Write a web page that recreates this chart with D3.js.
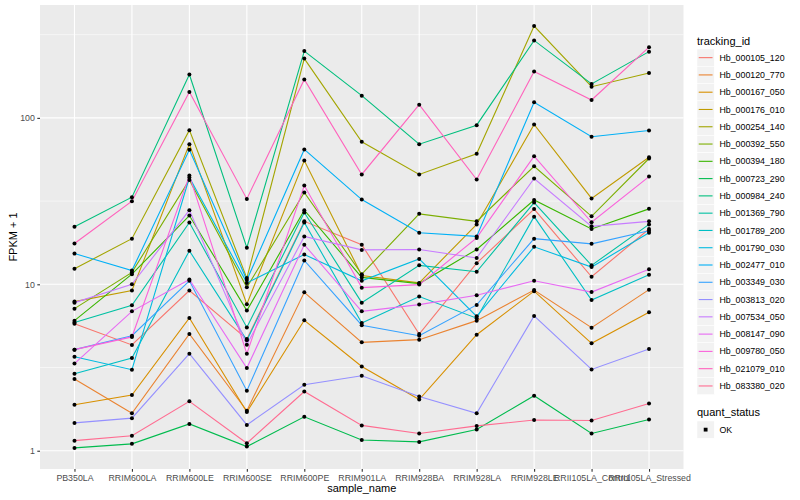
<!DOCTYPE html>
<html>
<head>
<meta charset="utf-8">
<script src="https://cdn.jsdelivr.net/npm/d3@7"></script>
<style>
  body { margin: 0; background: #fff; }
  text { font-family: "Liberation Sans", Arial, Helvetica, sans-serif; }
</style>
</head>
<body>
<div id="chart"></div>
<script>
// samples on the x axis
var samples = ["PB350LA", "RRIM600LA", "RRIM600LE", "RRIM600SE", "RRIM600PE", "RRIM901LA",
  "RRIM928BA", "RRIM928LA", "RRIM928LE", "RRII105LA_Control", "RRII105LA_Stressed"];

var trackingIds = ["Hb_000105_120", "Hb_000120_770", "Hb_000167_050", "Hb_000176_010", "Hb_000254_140",
  "Hb_000392_550", "Hb_000394_180", "Hb_000723_290", "Hb_000984_240", "Hb_001369_790",
  "Hb_001789_200", "Hb_001790_030", "Hb_002477_010", "Hb_003349_030", "Hb_003813_020",
  "Hb_007534_050", "Hb_008147_090", "Hb_009780_050", "Hb_021079_010", "Hb_083380_020"];

// FPKM + 1, one array per gene, same order as samples
var hb000105_120 = [5.80, 4.32, 9.17, 4.70, 23.9, 17.3, 5.03, 13.4, 28.3, 11.1, 21.5];
var hb000120_770 = [2.70, 1.68, 5.03, 1.74, 8.95, 4.48, 4.65, 6.05, 9.23, 5.49, 9.29];
var hb000167_050 = [1.89, 2.16, 6.28, 1.71, 6.08, 3.21, 2.03, 4.98, 9.10, 4.42, 6.79];
var hb000176_010 = [7.87, 9.17, 69.5, 7.60, 55.4, 11.3, 10.2, 22.9, 91.3, 32.8, 58.0];
var hb000254_140 = [12.4, 18.8, 84.4, 10.9, 227, 71.8, 45.7, 60.8, 356, 154, 186];
var hb000392_550 = [7.14, 11.8, 42.4, 9.59, 35.6, 11.5, 26.5, 23.9, 51.2, 25.6, 57.0];
var hb000394_180 = [6.05, 11.5, 25.9, 6.95, 27.9, 11.0, 10.1, 16.2, 32.1, 21.5, 28.4];
var hb000723_290 = [1.04, 1.10, 1.45, 1.06, 1.60, 1.16, 1.13, 1.34, 2.14, 1.27, 1.54];
var hb000984_240 = [22.2, 33.4, 182, 16.6, 252, 136, 69.5, 90.4, 292, 160, 250];
var hb001369_790 = [5.89, 7.48, 23.5, 5.51, 27.0, 7.76, 13.0, 11.9, 31.0, 13.0, 22.9];
var hb001789_200 = [2.90, 3.61, 15.9, 4.61, 23.5, 5.86, 8.44, 6.26, 25.5, 8.04, 11.4];
var hb001790_030 = [3.67, 3.07, 43.8, 10.2, 15.1, 10.5, 14.2, 6.42, 16.8, 12.7, 20.4];
var hb002477_010 = [15.3, 12.1, 64.3, 10.6, 64.6, 32.3, 20.4, 19.4, 124, 77.0, 84.0];
var hb003349_030 = [4.05, 4.91, 10.5, 2.29, 13.9, 5.68, 4.91, 7.52, 18.8, 17.5, 21.0];
var hb003813_020 = [1.47, 1.57, 3.83, 1.43, 2.49, 2.82, 2.12, 1.68, 6.46, 3.08, 4.09];
var hb007534_050 = [7.76, 10.0, 27.9, 4.34, 19.4, 16.1, 16.2, 14.4, 43.2, 22.3, 23.9];
var hb008147_090 = [3.34, 6.88, 10.7, 3.14, 17.3, 6.88, 7.55, 8.59, 10.5, 8.98, 12.3];
var hb009780_050 = [4.05, 4.83, 45.0, 3.83, 39.2, 9.55, 9.96, 19.0, 58.9, 23.6, 44.4];
var hb021079_010 = [17.6, 31.6, 143, 32.6, 170, 45.7, 120, 42.6, 190, 128, 266];
var hb083380_020 = [1.15, 1.23, 1.98, 1.11, 2.27, 1.42, 1.27, 1.41, 1.53, 1.52, 1.92];

var seriesValues = [hb000105_120, hb000120_770, hb000167_050, hb000176_010, hb000254_140,
  hb000392_550, hb000394_180, hb000723_290, hb000984_240, hb001369_790,
  hb001789_200, hb001790_030, hb002477_010, hb003349_030, hb003813_020,
  hb007534_050, hb008147_090, hb009780_050, hb021079_010, hb083380_020];

var yTicks = [1, 10, 100];
var quantStatus = ["OK"];

// ggplot hue palette for 20 groups
var colors = ["#F8766D", "#EA8331", "#D89000", "#C09B00", "#A3A500", "#7CAE00", "#39B600", "#00BB4E",
  "#00BF7D", "#00C1A3", "#00BFC4", "#00BAE0", "#00B0F6", "#35A2FF", "#9590FF", "#C77CFF",
  "#E76BF3", "#FA62DB", "#FF62BC", "#FF6C91"];

var width = 800, height = 500;
var panel = {left: 40, top: 5, right: 683.5, bottom: 469};

var svg = d3.select("#chart").append("svg")
  .attr("width", width)
  .attr("height", height);

// x: discrete with 0.6 expansion each side
var x = d3.scaleLinear()
  .domain([-0.6, samples.length - 1 + 0.6])
  .range([panel.left, panel.right]);

// y: log10 with 5% expansion
var all = [];
seriesValues.forEach(function(s){ s.forEach(function(v){ all.push(Math.log10(v)); }); });
var lo = d3.min(all), hi = d3.max(all), pad = (hi - lo) * 0.05;
var y = d3.scaleLog()
  .domain([Math.pow(10, lo - pad), Math.pow(10, hi + pad)])
  .range([panel.bottom, panel.top]);

svg.append("rect")
  .attr("x", panel.left).attr("y", panel.top)
  .attr("width", panel.right - panel.left).attr("height", panel.bottom - panel.top)
  .attr("fill", "#EBEBEB");

// minor grid at half decades
var minor = [Math.pow(10, 0.5), Math.pow(10, 1.5), Math.pow(10, 2.5)];
svg.selectAll(".minor").data(minor).enter().append("line")
  .attr("x1", panel.left).attr("x2", panel.right)
  .attr("y1", function(d){ return y(d); }).attr("y2", function(d){ return y(d); })
  .attr("stroke", "#fff").attr("stroke-width", 0.55);

svg.selectAll(".hgrid").data(yTicks).enter().append("line")
  .attr("x1", panel.left).attr("x2", panel.right)
  .attr("y1", function(d){ return y(d); }).attr("y2", function(d){ return y(d); })
  .attr("stroke", "#fff").attr("stroke-width", 1.1);

svg.selectAll(".vgrid").data(samples).enter().append("line")
  .attr("x1", function(d, i){ return x(i); }).attr("x2", function(d, i){ return x(i); })
  .attr("y1", panel.top).attr("y2", panel.bottom)
  .attr("stroke", "#fff").attr("stroke-width", 1.1);

// lines
var line = d3.line()
  .x(function(d, i){ return x(i); })
  .y(function(d){ return y(d); });

svg.selectAll(".series").data(seriesValues).enter().append("path")
  .attr("d", line)
  .attr("fill", "none")
  .attr("stroke", function(d, i){ return colors[i]; })
  .attr("stroke-width", 1.1);

// points
seriesValues.forEach(function(s){
  svg.selectAll(null).data(s).enter().append("circle")
    .attr("cx", function(d, i){ return x(i); })
    .attr("cy", function(d){ return y(d); })
    .attr("r", 2)
    .attr("fill", "#000");
});

// axes
var xAxis = d3.axisBottom(x)
  .tickValues(d3.range(samples.length))
  .tickFormat(function(i){ return samples[i]; })
  .tickSize(2.7).tickPadding(3);
var gx = svg.append("g").attr("transform", "translate(0," + panel.bottom + ")").call(xAxis);

var yAxis = d3.axisLeft(y)
  .tickValues(yTicks)
  .tickFormat(d3.format("d"))
  .tickSize(2.7).tickPadding(2.5);
var gy = svg.append("g").attr("transform", "translate(" + panel.left + ",0)").call(yAxis);

[gx, gy].forEach(function(g){
  g.select(".domain").remove();
  g.selectAll(".tick line").attr("stroke", "#333333").attr("stroke-width", 1.1);
  g.selectAll(".tick text").attr("fill", "#4D4D4D").style("font-size", "8.8px")
    .style("font-family", "'Liberation Sans', Arial, sans-serif");
});

svg.append("text")
  .attr("x", (panel.left + panel.right) / 2).attr("y", 492)
  .attr("text-anchor", "middle").style("font-size", "11px").text("sample_name");

svg.append("text")
  .attr("transform", "translate(17," + ((panel.top + panel.bottom) / 2) + ") rotate(-90)")
  .attr("text-anchor", "middle").style("font-size", "11px").text("FPKM + 1");

// legend: tracking_id
var legX = 697, key = 17.28, leg0 = 49;
svg.append("text").attr("x", legX).attr("y", 44.5)
  .style("font-size", "11px").text("tracking_id");

var items = svg.selectAll(".leg").data(trackingIds).enter().append("g")
  .attr("transform", function(d, i){ return "translate(" + legX + "," + (leg0 + i * key) + ")"; });
items.append("rect").attr("width", key).attr("height", key)
  .attr("fill", "#F2F2F2").attr("stroke", "#fff").attr("stroke-width", 0.5);
items.append("line")
  .attr("x1", key * 0.1).attr("x2", key * 0.9)
  .attr("y1", key / 2).attr("y2", key / 2)
  .attr("stroke", function(d, i){ return colors[i]; }).attr("stroke-width", 1.1);
items.append("text").attr("x", key + 5.2).attr("y", key / 2 + 3.1)
  .style("font-size", "8.8px").attr("fill", "#000").text(function(d){ return d; });

// legend: quant_status
var q0 = 404;
svg.append("text").attr("x", legX).attr("y", q0 + 11.5)
  .style("font-size", "11px").text("quant_status");
var qi = svg.selectAll(".qleg").data(quantStatus).enter().append("g")
  .attr("transform", function(d, i){ return "translate(" + legX + "," + (q0 + 17 + i * key) + ")"; });
qi.append("rect").attr("width", key).attr("height", key)
  .attr("fill", "#F2F2F2").attr("stroke", "#fff").attr("stroke-width", 0.5);
qi.append("rect").attr("x", key / 2 - 1.9).attr("y", key / 2 - 1.9)
  .attr("width", 3.8).attr("height", 3.8).attr("fill", "#000");
qi.append("text").attr("x", key + 5.2).attr("y", key / 2 + 3.1)
  .style("font-size", "8.8px").text(function(d){ return d; });
</script>
</body>
</html>
